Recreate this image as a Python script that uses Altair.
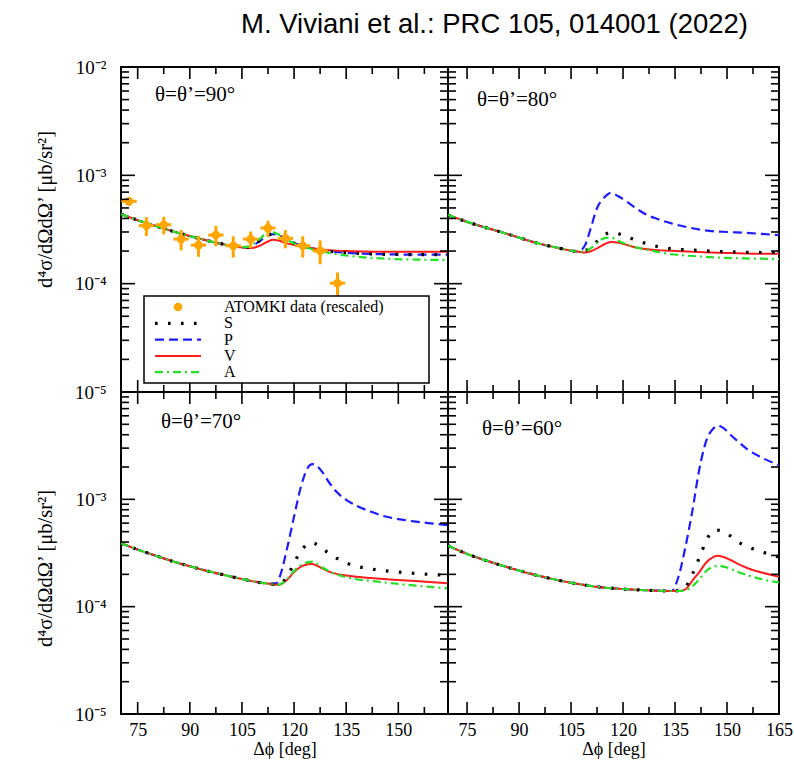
import math

import altair as alt
import pandas as pd

TITLE = "M. Viviani et al.:  PRC 105, 014001 (2022)"
Y_TITLE = "d⁴σ/dΩdΩ’ [μb/sr²]"
X_TITLE = "Δϕ [deg]"
DATA_NAME = "ATOMKI data (rescaled)"
MODELS = ["S", "P", "V", "A"]

# ---- theta = theta' = 90 deg ----
PHI_90 = [70.2, 75, 80, 85, 90, 95, 100, 104, 106.5, 108.5, 110.5, 112.5, 114,
          115.5, 117.5, 120, 123, 126, 130, 135, 140, 145, 150, 155, 160, 164.3]
BASE_90 = [4.4e-4, 3.85e-4, 3.42e-4, 3.05e-4, 2.75e-4, 2.5e-4, 2.3e-4, 2.18e-4]
S_90 = BASE_90 + [2.16e-4, 2.3e-4, 2.55e-4, 2.8e-4, 2.88e-4, 2.8e-4, 2.58e-4, 2.36e-4, 2.2e-4,
                  2.1e-4, 2.0e-4, 1.93e-4, 1.89e-4, 1.87e-4, 1.86e-4, 1.85e-4, 1.85e-4, 1.85e-4]
P_90 = BASE_90 + [2.16e-4, 2.28e-4, 2.52e-4, 2.78e-4, 2.87e-4, 2.8e-4, 2.6e-4, 2.37e-4, 2.2e-4,
                  2.1e-4, 2.0e-4, 1.93e-4, 1.89e-4, 1.87e-4, 1.86e-4, 1.85e-4, 1.85e-4, 1.85e-4]
V_90 = BASE_90 + [2.13e-4, 2.15e-4, 2.27e-4, 2.45e-4, 2.54e-4, 2.5e-4, 2.38e-4, 2.28e-4, 2.18e-4,
                  2.1e-4, 2.04e-4, 2.0e-4, 1.98e-4, 1.97e-4, 1.97e-4, 1.97e-4, 1.97e-4, 1.97e-4]
A_90 = BASE_90 + [2.17e-4, 2.35e-4, 2.65e-4, 3.0e-4, 2.98e-4, 2.85e-4, 2.6e-4, 2.35e-4, 2.18e-4,
                  2.05e-4, 1.92e-4, 1.82e-4, 1.75e-4, 1.71e-4, 1.68e-4, 1.67e-4, 1.66e-4, 1.66e-4]

# ATOMKI points shown with the 90 deg curves
PHI_DATA = [72.5, 77.5, 82.5, 87.5, 92.5, 97.5, 102.5, 107.5, 112.5, 117.5, 122.5, 127.5, 132.5]
XS_DATA = [5.75e-4, 3.43e-4, 3.5e-4, 2.58e-4, 2.27e-4, 2.81e-4, 2.24e-4, 2.58e-4, 3.26e-4,
           2.62e-4, 2.24e-4, 2.01e-4, 1.01e-4]
XS_ERR = [0.5e-4, 0.68e-4, 0.65e-4, 0.55e-4, 0.5e-4, 0.6e-4, 0.5e-4, 0.45e-4, 0.55e-4,
          0.5e-4, 0.5e-4, 0.5e-4, 0.26e-4]
PHI_ERR = [2.2] * len(PHI_DATA)

# ---- theta = theta' = 80 deg ----
PHI_80 = [69.5, 75, 80, 85, 90, 95, 100, 104, 107, 109, 110.5, 112.5, 114.5, 116.5, 118.5,
          121, 124, 127, 130, 134, 140, 145, 150, 155, 160, 165]
BASE_80 = [4.3e-4, 3.72e-4, 3.32e-4, 2.98e-4, 2.66e-4, 2.38e-4, 2.18e-4, 2.05e-4, 1.98e-4]
S_80 = BASE_80 + [2.02e-4, 2.12e-4, 2.45e-4, 2.8e-4, 2.97e-4, 2.9e-4, 2.72e-4, 2.5e-4, 2.33e-4,
                  2.2e-4, 2.1e-4, 2.04e-4, 2.0e-4, 1.97e-4, 1.95e-4, 1.94e-4, 1.93e-4]
P_80 = BASE_80 + [2.25e-4, 3.1e-4, 5.0e-4, 6.2e-4, 6.9e-4, 6.45e-4, 5.75e-4, 4.9e-4, 4.3e-4,
                  3.95e-4, 3.6e-4, 3.25e-4, 3.07e-4, 3.0e-4, 2.95e-4, 2.88e-4, 2.8e-4]
V_80 = BASE_80 + [1.94e-4, 1.98e-4, 2.12e-4, 2.3e-4, 2.43e-4, 2.4e-4, 2.28e-4, 2.15e-4, 2.08e-4,
                  2.04e-4, 2.01e-4, 1.97e-4, 1.94e-4, 1.92e-4, 1.9e-4, 1.89e-4, 1.89e-4]
A_80 = BASE_80 + [1.99e-4, 2.1e-4, 2.38e-4, 2.62e-4, 2.66e-4, 2.5e-4, 2.3e-4, 2.15e-4, 2.05e-4,
                  1.96e-4, 1.87e-4, 1.8e-4, 1.76e-4, 1.73e-4, 1.71e-4, 1.7e-4, 1.69e-4]

# ---- theta = theta' = 70 deg ----
PHI_70 = [70.2, 75, 80, 85, 90, 95, 100, 105, 110, 113, 115, 116, 118, 120, 122, 124, 125.2,
          126.5, 128, 130, 132.5, 135, 138, 142, 146, 150, 155, 160, 164.3]
BASE_70 = [3.9e-4, 3.4e-4, 3.0e-4, 2.65e-4, 2.38e-4, 2.15e-4, 1.97e-4, 1.81e-4, 1.68e-4, 1.63e-4]
S_70 = BASE_70 + [1.61e-4, 1.64e-4, 1.9e-4, 2.55e-4, 3.3e-4, 3.85e-4, 3.95e-4, 3.8e-4, 3.5e-4,
                  3.15e-4, 2.8e-4, 2.55e-4, 2.38e-4, 2.25e-4, 2.16e-4, 2.1e-4, 2.04e-4, 1.99e-4, 1.96e-4]
P_70 = BASE_70 + [1.66e-4, 1.95e-4, 3.5e-4, 6.9e-4, 1.32e-3, 1.98e-3, 2.13e-3, 2.05e-3, 1.82e-3,
                  1.45e-3, 1.15e-3, 9.9e-4, 8.7e-4, 7.7e-4, 6.95e-4, 6.55e-4, 6.2e-4, 5.95e-4, 5.75e-4]
V_70 = BASE_70 + [1.6e-4, 1.61e-4, 1.78e-4, 2.1e-4, 2.36e-4, 2.48e-4, 2.5e-4, 2.42e-4, 2.28e-4,
                  2.12e-4, 2.01e-4, 1.95e-4, 1.9e-4, 1.85e-4, 1.81e-4, 1.77e-4, 1.73e-4, 1.69e-4, 1.65e-4]
A_70 = BASE_70 + [1.6e-4, 1.62e-4, 1.8e-4, 2.15e-4, 2.45e-4, 2.6e-4, 2.63e-4, 2.52e-4, 2.33e-4,
                  2.15e-4, 1.98e-4, 1.88e-4, 1.8e-4, 1.74e-4, 1.68e-4, 1.63e-4, 1.57e-4, 1.52e-4, 1.48e-4]

# ---- theta = theta' = 60 deg ----
PHI_60 = [69.5, 75, 80, 85, 90, 95, 100, 105, 110, 115, 120, 125, 130, 134, 136, 138, 140, 142,
          144, 146, 147.5, 149, 151, 153, 156, 160, 165]
BASE_60 = [3.7e-4, 3.1e-4, 2.72e-4, 2.42e-4, 2.17e-4, 1.96e-4, 1.8e-4, 1.67e-4, 1.57e-4, 1.5e-4,
           1.46e-4, 1.43e-4, 1.41e-4, 1.4e-4]
S_60 = BASE_60 + [1.41e-4, 1.52e-4, 2.0e-4, 2.85e-4, 4.1e-4, 5.1e-4, 5.15e-4, 5.0e-4, 4.55e-4,
                  4.05e-4, 3.62e-4, 3.25e-4, 2.9e-4]
P_60 = BASE_60 + [1.9e-4, 3.6e-4, 7.8e-4, 1.9e-3, 3.5e-3, 4.55e-3, 4.85e-3, 4.6e-3, 4.0e-3,
                  3.5e-3, 2.9e-3, 2.45e-3, 2.08e-3]
V_60 = BASE_60 + [1.4e-4, 1.45e-4, 1.75e-4, 2.1e-4, 2.58e-4, 2.9e-4, 2.98e-4, 2.9e-4, 2.72e-4,
                  2.52e-4, 2.28e-4, 2.08e-4, 1.9e-4]
A_60 = BASE_60 + [1.4e-4, 1.42e-4, 1.55e-4, 1.8e-4, 2.15e-4, 2.35e-4, 2.41e-4, 2.36e-4, 2.25e-4,
                  2.12e-4, 1.96e-4, 1.8e-4, 1.68e-4]

# ---- axes ----
Y_LABELS_TOP = [1e-5, 1e-4, 1e-3, 1e-2]
Y_LABELS_BOTTOM = [1e-5, 1e-4, 1e-3]
X_LABELS_LEFT = [75, 90, 105, 120, 135, 150]
X_LABELS_RIGHT = [75, 90, 105, 120, 135, 150, 165]
X_MAJOR = [75, 90, 105, 120, 135, 150, 165]
X_MINOR = [82.5, 97.5, 112.5, 127.5, 142.5, 157.5]
Y_MAJOR = [1e-5, 1e-4, 1e-3, 1e-2]
Y_MINOR = [m * d for d in (1e-5, 1e-4, 1e-3) for m in range(2, 10)]
Y_DOMAIN = [1e-5, 1e-2]

SERIF = "Liberation Serif"
ORANGE = "#ffa500"
LINE_STYLE = {
    "S": {"color": "#000000", "strokeWidth": 3.2, "strokeDash": [2.6, 10.4], "strokeCap": "butt"},
    "P": {"color": "#1c1cff", "strokeWidth": 2.2, "strokeDash": [9, 5]},
    "V": {"color": "#ff1c1c", "strokeWidth": 2.0},
    "A": {"color": "#22e022", "strokeWidth": 2.2, "strokeDash": [8, 4, 2, 4]},
}
DRAW_ORDER = ["P", "V", "S", "A"]
ONE_ROW = pd.DataFrame({"k": [0]})

Y_LABEL_EXPR = ("datum.value < 5e-5 ? '10⁻⁵' : datum.value < 5e-4 ? '10⁻⁴' : "
                "datum.value < 5e-3 ? '10⁻³' : '10⁻²'")


def frame_ticks(x_dom, width, height):
    """Inward tick marks on all four sides of a panel, one short rule each.

    Tick values are placed with the same linear / log mapping the panel's
    scales use, so every tick starts on the frame and points inward."""
    def px(v):
        return width * (v - x_dom[0]) / (x_dom[1] - x_dom[0])

    def py(v):
        return height * (math.log10(Y_DOMAIN[1]) - math.log10(v)) / 3.0

    segs = []
    for vals, length in ((Y_MAJOR, 14), (Y_MINOR, 8)):
        for v in vals:
            y = py(v)
            segs.append((0, length, y, y))
            segs.append((width - length, width, y, y))
    for vals, length in ((X_MAJOR, 12), (X_MINOR, 7)):
        for v in vals:
            if x_dom[0] <= v <= x_dom[1]:
                x = px(v)
                segs.append((x, x, 0, length))
                segs.append((x, x, height - length, height))
    out = []
    for x0, x1, y0, y1 in segs:
        out.append(alt.Chart(ONE_ROW).mark_rule(color="black", strokeWidth=1.6).encode(
            x=alt.value(x0), x2=alt.value(x1), y=alt.value(y0), y2=alt.value(y1)))
    return out


def make_panel(phi, curves, label, label_xy, x_dom, width, height,
               x_labels=None, y_labels=None, y_title_y=None, with_data=False):
    xs = alt.Scale(domain=x_dom, nice=False, zero=False)
    ys = alt.Scale(type="log", domain=Y_DOMAIN, nice=False)

    if x_labels:
        x_axis = alt.Axis(orient="bottom", values=x_labels, format="d", title=X_TITLE,
                          ticks=False, domain=False, grid=False, labelFont=SERIF,
                          labelFontSize=18, labelColor="black", labelPadding=7,
                          labelFlush=False, labelOverlap=False, titleFont=SERIF,
                          titleFontSize=18, titleFontWeight="normal", titleColor="black",
                          titlePadding=1)
    else:
        x_axis = None
    if y_labels:
        y_axis = alt.Axis(orient="left", values=y_labels, labelExpr=Y_LABEL_EXPR, title=Y_TITLE,
                          ticks=False, domain=False, grid=False, labelFont=SERIF,
                          labelFontSize=19, labelColor="black", labelPadding=15,
                          labelFlush=False, labelOverlap=False, titleFont=SERIF,
                          titleFontSize=20.5, titleFontWeight="normal", titleColor="black",
                          titleAngle=-90, titleAlign="center", titleBaseline="middle",
                          titleX=-76, titleY=y_title_y)
    else:
        y_axis = None

    X = lambda f: alt.X(f, type="quantitative", scale=xs, axis=x_axis)
    Y = lambda f: alt.Y(f, type="quantitative", scale=ys, axis=y_axis)

    layers = []
    for name in DRAW_ORDER:
        df = pd.DataFrame({"phi": phi, "xs": curves[name]})
        layers.append(alt.Chart(df).mark_line(interpolate="monotone", clip=True,
                                              **LINE_STYLE[name])
                      .encode(x=X("phi"), y=Y("xs")))

    if with_data:
        pts = pd.DataFrame({"phi": PHI_DATA, "xs": XS_DATA, "err": XS_ERR, "perr": PHI_ERR})
        pts["lo"] = pts["xs"] - pts["err"]
        pts["hi"] = pts["xs"] + pts["err"]
        pts["plo"] = pts["phi"] - pts["perr"]
        pts["phi_hi"] = pts["phi"] + pts["perr"]
        base = alt.Chart(pts)
        layers.append(base.mark_rule(color=ORANGE, strokeWidth=3)
                      .encode(x=X("phi"), y=Y("lo"), y2="hi"))
        layers.append(base.mark_rule(color=ORANGE, strokeWidth=3)
                      .encode(x=X("plo"), x2="phi_hi", y=Y("xs")))
        layers.append(base.mark_circle(color=ORANGE, size=75, opacity=1)
                      .encode(x=X("phi"), y=Y("xs")))

    layers.extend(frame_ticks(x_dom, width, height))

    if with_data:
        # legend box
        layers.append(alt.Chart(ONE_ROW).mark_rect(
            fill="white", stroke="black", strokeWidth=1.5).encode(
            x=alt.value(23), x2=alt.value(308), y=alt.value(229), y2=alt.value(316)))
        names = [DATA_NAME] + MODELS
        for i, name in enumerate(names):
            ry = 240 + 16.3 * i
            if name == DATA_NAME:
                layers.append(alt.Chart(ONE_ROW).mark_circle(
                    color=ORANGE, size=75, opacity=1).encode(
                    x=alt.value(57), y=alt.value(ry)))
            else:
                layers.append(alt.Chart(ONE_ROW).mark_rule(**LINE_STYLE[name]).encode(
                    x=alt.value(34), x2=alt.value(80), y=alt.value(ry)))
            layers.append(alt.Chart(pd.DataFrame({"t": [name]})).mark_text(
                font=SERIF, fontSize=16, align="left", baseline="middle",
                color="black").encode(x=alt.value(103), y=alt.value(ry), text="t:N"))

    layers.append(alt.Chart(pd.DataFrame({"t": [label]})).mark_text(
        font=SERIF, fontSize=21, align="left", baseline="middle", color="black").encode(
        x=alt.value(label_xy[0]), y=alt.value(label_xy[1]), text="t:N"))

    return alt.layer(*layers).properties(width=width, height=height)


p90 = make_panel(PHI_90, {"S": S_90, "P": P_90, "V": V_90, "A": A_90}, "θ=θ’=90°", (34, 28),
                 [70.2, 164.3], 327, 325, y_labels=Y_LABELS_TOP, y_title_y=142, with_data=True)
p80 = make_panel(PHI_80, {"S": S_80, "P": P_80, "V": V_80, "A": A_80}, "θ=θ’=80°", (29, 33),
                 [69.5, 165], 331, 325)
p70 = make_panel(PHI_70, {"S": S_70, "P": P_70, "V": V_70, "A": A_70}, "θ=θ’=70°", (40, 30),
                 [70.2, 164.3], 327, 322, x_labels=X_LABELS_LEFT, y_labels=Y_LABELS_BOTTOM,
                 y_title_y=176)
p60 = make_panel(PHI_60, {"S": S_60, "P": P_60, "V": V_60, "A": A_60}, "θ=θ’=60°", (34, 37),
                 [69.5, 165], 331, 322, x_labels=X_LABELS_RIGHT)

chart = (
    alt.concat(p90, p80, p70, p60, columns=2, spacing=0, bounds="flush")
    .properties(
        title=alt.TitleParams(TITLE, font="Liberation Sans", fontSize=27.5,
                              fontWeight="normal", color="black",
                              anchor="start", frame="group", dx=120, offset=19),
        padding={"left": 34, "top": 10, "right": 0, "bottom": 4},
    )
    .configure_view(stroke="black", strokeWidth=2)
)

chart.save("out.html", embed_options={"renderer": "svg", "actions": False})
